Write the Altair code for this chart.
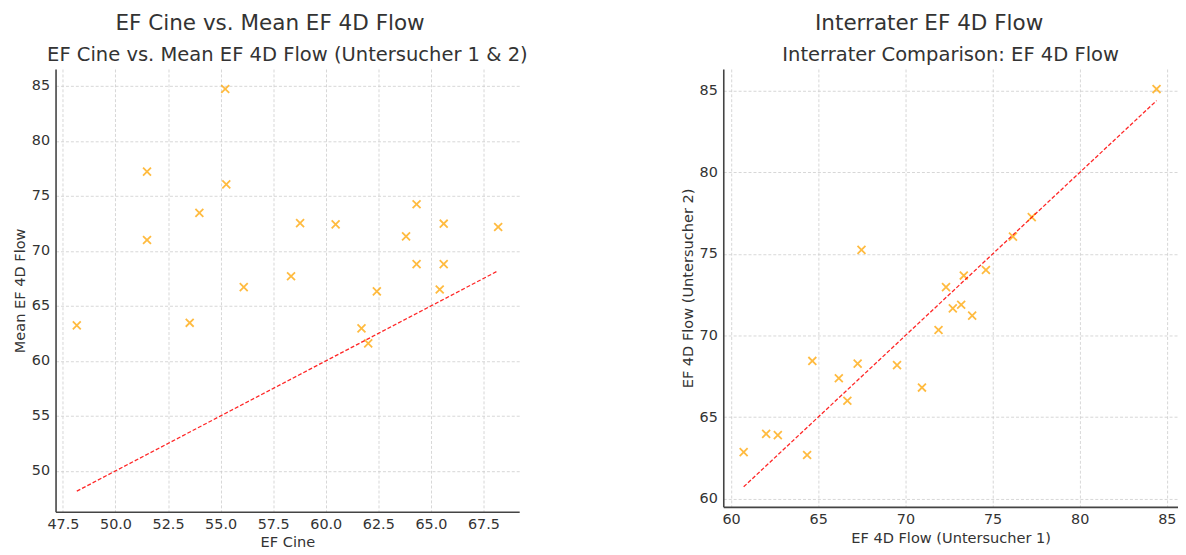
import altair as alt
import pandas as pd

# Left panel: EF Cine vs. mean EF 4D Flow
ef_cine = [48.16, 51.5, 51.5, 55.22, 55.27, 53.99, 56.1, 53.53, 58.35, 58.78, 60.47,
           64.32, 63.82, 65.61, 68.2, 64.32, 65.61, 62.43, 65.42, 61.7, 62.02]
mean_flow = [63.23, 77.22, 71.0, 84.73, 76.05, 73.47, 66.71, 63.47, 67.7, 72.54, 72.42,
             74.25, 71.33, 72.48, 72.18, 68.81, 68.81, 66.32, 66.5, 62.96, 61.6]

# Right panel: interrater
flow_u1 = [60.72, 62.01, 62.68, 64.36, 64.66, 66.18, 66.67, 67.26, 69.52, 70.95, 71.9,
           72.72, 73.2, 73.83, 84.41, 77.25, 76.17, 74.62, 73.35, 72.33, 67.48]
flow_u2 = [62.85, 63.97, 63.89, 62.67, 68.44, 67.38, 66.0, 68.28, 68.18, 66.81, 70.34,
           71.67, 71.89, 71.22, 85.12, 77.26, 76.07, 74.02, 73.68, 72.97, 75.25]

left_xticks = [47.5, 50.0, 52.5, 55.0, 57.5, 60.0, 62.5, 65.0, 67.5]
left_yticks = [50, 55, 60, 65, 70, 75, 80, 85]
right_xticks = [60, 65, 70, 75, 80, 85]
right_yticks = [60, 65, 70, 75, 80, 85]

X_SHAPE = "M-1,-1L1,1M-1,1L1,-1"
FONT = "DejaVu Sans"


def panel(xs, ys, xdom, ydom, xticks, yticks, xfmt, xtitle, ytitle, w, h, sub):
    pts = pd.DataFrame({"x": xs, "y": ys})
    lo, hi = min(xs), max(xs)
    ln = pd.DataFrame({"x": [lo, hi], "y": [lo, hi]})
    xs_ = alt.Scale(domain=xdom, nice=False, zero=False)
    ys_ = alt.Scale(domain=ydom, nice=False, zero=False)
    xax = alt.Axis(values=xticks, format=xfmt, title=xtitle)
    yax = alt.Axis(values=yticks, format="d", title=ytitle)
    p = alt.Chart(pts).mark_point(
        shape=X_SHAPE, filled=False, color="#FFA500", opacity=0.75,
        strokeWidth=1.8, size=64
    ).encode(x=alt.X("x:Q", scale=xs_, axis=xax), y=alt.Y("y:Q", scale=ys_, axis=yax))
    l = alt.Chart(ln).mark_line(
        color="#ff0000", opacity=0.85, strokeDash=[4, 2], strokeWidth=1.3
    ).encode(x=alt.X("x:Q", scale=xs_), y=alt.Y("y:Q", scale=ys_))
    return alt.layer(p, l).properties(
        width=w, height=h,
        title=alt.TitleParams(sub, fontSize=19.7, offset=4, anchor="middle", frame="group"),
    )


left_panel = panel(ef_cine, mean_flow, [47.15, 69.2], [46.28, 86.55], left_xticks, left_yticks,
                   ".1f", "EF Cine", "Mean EF 4D Flow", 468, 447,
                   "EF Cine vs. Mean EF 4D Flow (Untersucher 1 & 2)")
right_panel = panel(flow_u1, flow_u2, [59.55, 85.64], [59.49, 86.35], right_xticks, right_yticks,
                    "d", "EF 4D Flow (Untersucher 1)", "EF 4D Flow (Untersucher 2)", 459, 442,
                    "Interrater Comparison: EF 4D Flow")

left = alt.vconcat(left_panel, title=alt.TitleParams("EF Cine vs. Mean EF 4D Flow", fontSize=21.7,
                                                      anchor="middle", offset=11))
right = alt.vconcat(right_panel, title=alt.TitleParams("Interrater EF 4D Flow", fontSize=21.7,
                                                        anchor="middle", offset=11))

chart = alt.hconcat(left, right, spacing=153).properties(
    padding={"left": 4, "top": 2, "right": 0, "bottom": 0}
).configure_view(stroke=None).configure_axis(
    grid=True, gridColor="#cccccc", gridDash=[3, 2], gridWidth=0.8,
    domainColor="#444444", domainWidth=1.6, ticks=False,
    labelFont=FONT, labelFontSize=14.5, labelColor="#333333", labelPadding=6,
    titleFont=FONT, titleFontSize=14.7, titleColor="#333333", titleFontWeight="normal",
    titlePadding=4,
).configure_title(font=FONT, fontWeight="normal", color="#333333")

chart.save("out.html", embed_options={"renderer": "svg", "actions": False})
